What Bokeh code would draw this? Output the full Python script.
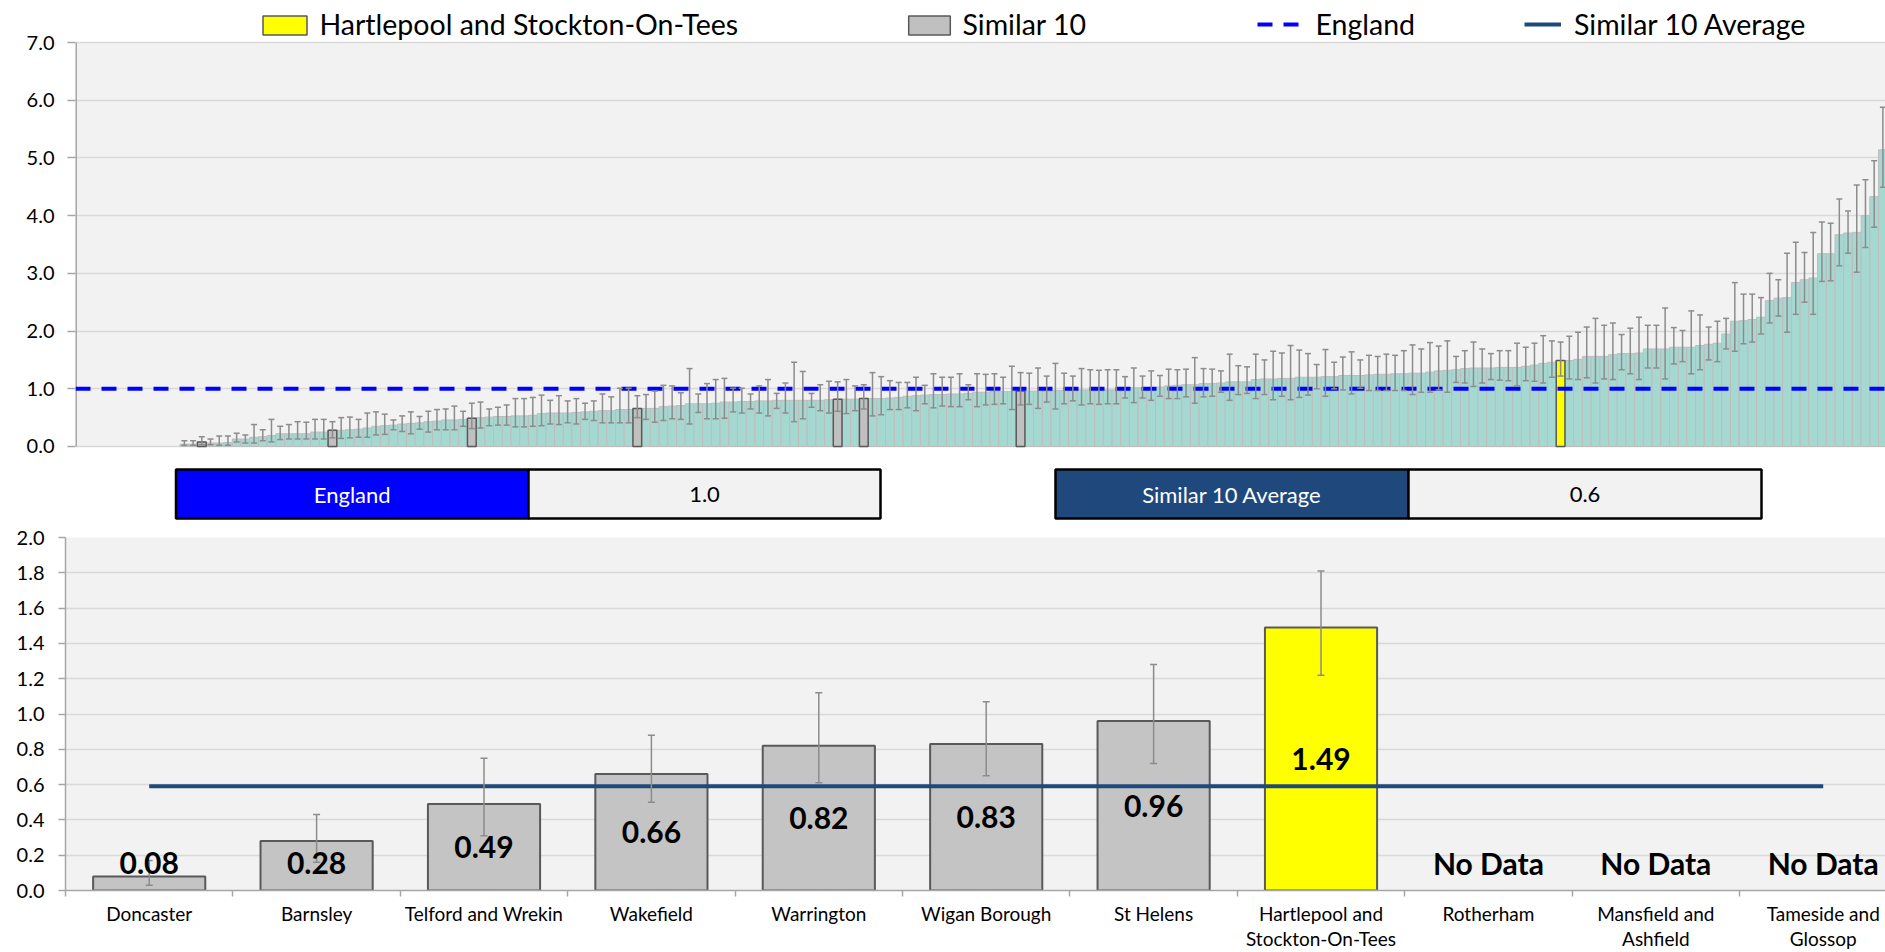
import numpy as np
from bokeh.plotting import figure
from bokeh.models import (ColumnDataSource, Range1d, FixedTicker, NumeralTickFormatter,
                          Legend, LegendItem, Label, BoxAnnotation)
from bokeh.layouts import column
from bokeh.embed import file_html
from bokeh.resources import INLINE
from bokeh.core.properties import value

FONT = "Lato"
W = 1885
NAVY = "#1F497D"
TEAL = "#A6D8D2"
GREY_BAR = "#C4C4C4"
ERR = "#8C8C8C"
AXIS_GREY = "#A6A6A6"

# ---------------------------------------------------------------- data
ENGLAND = 1.0
SIMILAR_AVG = 0.59
FOCAL = "Hartlepool and Stockton-On-Tees"

areas = ["Doncaster", "Barnsley", "Telford and Wrekin", "Wakefield", "Warrington",
         "Wigan Borough", "St Helens", "Hartlepool and Stockton-On-Tees", "Rotherham",
         "Mansfield and Ashfield", "Tameside and Glossop"]
area_labels = ["Doncaster", "Barnsley", "Telford and Wrekin", "Wakefield", "Warrington",
               "Wigan Borough", "St Helens", "Hartlepool and\nStockton-On-Tees", "Rotherham",
               "Mansfield and\nAshfield", "Tameside and\nGlossop"]
area_values = [0.08, 0.28, 0.49, 0.66, 0.82, 0.83, 0.96, 1.49, None, None, None]
area_lower = [0.03, 0.16, 0.31, 0.50, 0.61, 0.65, 0.72, 1.22, None, None, None]
area_upper = [0.17, 0.43, 0.75, 0.88, 1.12, 1.07, 1.28, 1.81, None, None, None]

# all areas, ranked (the first N_BLANK ranks have no value)
N_BLANK = 12
all_values = [
    0.04, 0.04, 0.08, 0.06, 0.06, 0.07, 0.13, 0.13, 0.16, 0.17,
    0.19, 0.22, 0.22, 0.22, 0.22, 0.25, 0.25, 0.28, 0.28, 0.29,
    0.30, 0.32, 0.35, 0.36, 0.37, 0.39, 0.40, 0.41, 0.43, 0.44,
    0.46, 0.46, 0.47, 0.49, 0.50, 0.51, 0.52, 0.52, 0.53, 0.53,
    0.54, 0.57, 0.58, 0.58, 0.58, 0.59, 0.60, 0.61, 0.62, 0.62,
    0.64, 0.64, 0.66, 0.66, 0.66, 0.69, 0.70, 0.71, 0.74, 0.74,
    0.74, 0.75, 0.77, 0.77, 0.78, 0.78, 0.79, 0.79, 0.80, 0.80,
    0.80, 0.80, 0.80, 0.80, 0.81, 0.82, 0.82, 0.82, 0.83, 0.83,
    0.83, 0.84, 0.85, 0.87, 0.88, 0.89, 0.90, 0.90, 0.91, 0.91,
    0.92, 0.94, 0.94, 0.95, 0.95, 0.95, 0.96, 0.96, 0.96, 0.96,
    0.97, 0.97, 0.97, 0.98, 0.98, 0.98, 0.98, 0.98, 1.01, 1.02,
    1.02, 1.02, 1.03, 1.05, 1.06, 1.07, 1.07, 1.09, 1.09, 1.10,
    1.12, 1.12, 1.12, 1.16, 1.17, 1.17, 1.18, 1.18, 1.20, 1.20,
    1.20, 1.21, 1.21, 1.23, 1.23, 1.23, 1.24, 1.25, 1.25, 1.26,
    1.26, 1.27, 1.27, 1.29, 1.31, 1.32, 1.33, 1.35, 1.36, 1.36,
    1.36, 1.37, 1.37, 1.37, 1.39, 1.41, 1.44, 1.46, 1.49, 1.49,
    1.51, 1.56, 1.56, 1.56, 1.59, 1.61, 1.61, 1.62, 1.69, 1.69,
    1.69, 1.72, 1.72, 1.72, 1.75, 1.77, 1.79, 1.95, 2.17, 2.18,
    2.20, 2.24, 2.53, 2.57, 2.58, 2.84, 2.89, 2.92, 3.34, 3.34,
    3.67, 3.70, 3.71, 4.00, 4.33, 5.14]
all_lower = [
    0.02, 0.02, 0.03, 0.03, 0.02, 0.02, 0.08, 0.06, 0.06, 0.10,
    0.08, 0.12, 0.13, 0.13, 0.13, 0.13, 0.13, 0.15, 0.14, 0.15,
    0.16, 0.16, 0.20, 0.21, 0.29, 0.26, 0.22, 0.30, 0.25, 0.29,
    0.29, 0.29, 0.35, 0.31, 0.32, 0.36, 0.37, 0.37, 0.34, 0.34,
    0.35, 0.36, 0.39, 0.38, 0.41, 0.39, 0.47, 0.45, 0.41, 0.41,
    0.41, 0.41, 0.50, 0.47, 0.42, 0.45, 0.48, 0.47, 0.39, 0.59,
    0.48, 0.48, 0.49, 0.60, 0.58, 0.65, 0.58, 0.53, 0.66, 0.58,
    0.43, 0.48, 0.68, 0.62, 0.58, 0.61, 0.57, 0.62, 0.65, 0.53,
    0.55, 0.64, 0.64, 0.67, 0.62, 0.74, 0.67, 0.70, 0.69, 0.69,
    0.81, 0.69, 0.72, 0.73, 0.74, 0.64, 0.72, 0.73, 0.66, 0.77,
    0.65, 0.74, 0.79, 0.72, 0.74, 0.73, 0.74, 0.74, 0.84, 0.76,
    0.84, 0.80, 0.87, 0.83, 0.83, 0.86, 0.75, 0.86, 0.87, 0.94,
    0.80, 0.90, 0.92, 0.83, 0.90, 0.81, 0.87, 0.81, 0.85, 0.89,
    1.00, 0.87, 1.00, 0.98, 0.91, 1.01, 0.97, 0.97, 0.97, 0.97,
    0.97, 0.90, 0.94, 0.94, 0.98, 0.94, 1.11, 1.10, 1.04, 1.10,
    1.16, 1.15, 1.14, 1.05, 1.14, 1.13, 1.10, 1.20, 1.22, 1.17,
    1.16, 1.19, 1.10, 1.17, 1.16, 1.33, 1.26, 1.16, 1.36, 1.36,
    1.17, 1.43, 1.47, 1.26, 1.33, 1.50, 1.47, 1.69, 1.65, 1.78,
    1.81, 1.95, 2.14, 2.26, 1.98, 2.29, 2.50, 2.29, 2.86, 2.87,
    3.13, 3.35, 3.02, 3.45, 3.80, 4.49]
all_upper = [
    0.10, 0.10, 0.17, 0.13, 0.18, 0.18, 0.23, 0.20, 0.38, 0.29,
    0.47, 0.35, 0.38, 0.43, 0.42, 0.47, 0.47, 0.43, 0.50, 0.51,
    0.47, 0.58, 0.60, 0.56, 0.46, 0.53, 0.60, 0.52, 0.61, 0.64,
    0.65, 0.70, 0.61, 0.75, 0.77, 0.65, 0.68, 0.72, 0.83, 0.83,
    0.85, 0.89, 0.80, 0.88, 0.79, 0.83, 0.75, 0.79, 0.91, 0.86,
    1.01, 1.01, 0.88, 0.90, 0.96, 1.06, 1.05, 0.93, 1.35, 0.91,
    1.09, 1.16, 1.18, 1.01, 1.01, 0.91, 1.05, 1.16, 0.92, 1.10,
    1.46, 1.30, 0.92, 1.07, 1.13, 1.12, 1.16, 1.05, 1.07, 1.28,
    1.21, 1.14, 1.11, 1.11, 1.20, 1.06, 1.26, 1.20, 1.20, 1.26,
    1.07, 1.26, 1.25, 1.26, 1.20, 1.39, 1.28, 1.27, 1.36, 1.22,
    1.44, 1.27, 1.22, 1.35, 1.33, 1.32, 1.33, 1.33, 1.21, 1.36,
    1.22, 1.31, 1.23, 1.34, 1.33, 1.34, 1.54, 1.35, 1.34, 1.31,
    1.60, 1.40, 1.38, 1.60, 1.50, 1.65, 1.62, 1.75, 1.67, 1.61,
    1.42, 1.68, 1.46, 1.55, 1.64, 1.50, 1.58, 1.56, 1.60, 1.58,
    1.66, 1.76, 1.69, 1.80, 1.74, 1.83, 1.56, 1.66, 1.81, 1.69,
    1.61, 1.66, 1.66, 1.79, 1.72, 1.79, 1.92, 1.83, 1.81, 1.91,
    1.98, 2.07, 2.22, 2.10, 2.14, 1.94, 2.05, 2.24, 2.10, 2.10,
    2.40, 2.06, 2.01, 2.35, 2.28, 2.07, 2.17, 2.22, 2.84, 2.64,
    2.64, 2.58, 3.00, 2.89, 3.35, 3.54, 3.36, 3.71, 3.89, 3.87,
    4.29, 4.08, 4.53, 4.62, 4.95, 5.88]
similar_rank = [2, 17, 33, 52, 75, 78, 96]
focal_rank = 158

# ---------------------------------------------------------------- top chart (+ summary boxes)
TOP_H = 528
TOP_X_END = 207.8
TOP_Y_END = 7.728          # headroom above 7.0 holds the legend row
TOP_Y_START = -1.421       # room below 0.0 holds the England / Similar 10 summary boxes
Y_TICKS_TOP = list(range(8))
xs = N_BLANK + np.arange(len(all_values)) + 0.5
src_all = ColumnDataSource(dict(x=xs, v=all_values, lo=all_lower, up=all_upper))
src_sim = ColumnDataSource(dict(x=[xs[i] for i in similar_rank],
                                v=[all_values[i] for i in similar_rank]))
src_foc = ColumnDataSource(dict(x=[xs[focal_rank]], v=[all_values[focal_rank]]))

top = figure(width=W, height=TOP_H, x_range=Range1d(0, TOP_X_END),
             y_range=Range1d(TOP_Y_START, TOP_Y_END), frame_align=False,
             output_backend="svg", toolbar_location=None, tools="",
             min_border_left=75, min_border_right=0, min_border_top=0, min_border_bottom=0,
             background_fill_color="white", border_fill_color="white", outline_line_color=None)
# pixel-space ranges for the summary boxes placed under the ranked chart
top.extra_x_ranges = {"px": Range1d(75, W)}
top.extra_y_ranges = {"py": Range1d(TOP_H, 0)}
top.add_layout(BoxAnnotation(bottom=Y_TICKS_TOP[0], top=Y_TICKS_TOP[-1], fill_color="#F2F2F2",
                             fill_alpha=1, line_color=None, level="image"))
top.xaxis.visible = False
top.xgrid.visible = False
top.yaxis.ticker = FixedTicker(ticks=Y_TICKS_TOP)
top.yaxis.formatter = NumeralTickFormatter(format="0.0")
top.yaxis.axis_line_color = None
top.yaxis.major_tick_line_color = AXIS_GREY
top.yaxis.major_tick_line_width = 1.5
top.yaxis.major_tick_out = 8
top.yaxis.major_tick_in = 0
top.yaxis.minor_tick_line_color = None
top.yaxis.major_label_standoff = 13
top.yaxis.major_label_text_font = FONT
top.yaxis.major_label_text_font_size = "20px"
top.yaxis.major_label_text_color = "black"
top.ygrid.grid_line_color = "#D9D9D9"
top.ygrid.grid_line_width = 1.5
# vertical axis line only over the 0-7 plot area
top.segment(x0=[top.x_range.start], y0=[Y_TICKS_TOP[0]], x1=[top.x_range.start],
            y1=[Y_TICKS_TOP[-1]], line_color=AXIS_GREY, line_width=3)

top.vbar(x="x", top="v", width=1, source=src_all, fill_color=TEAL,
         line_color="#BDBDBD", line_width=1)
r_sim = top.vbar(x="x", top="v", width=1, source=src_sim, fill_color="#C0C0C0",
                 line_color="#595959", line_width=1.5)
r_foc = top.vbar(x="x", top="v", width=1, source=src_foc, fill_color="#FFFF00",
                 line_color="#595959", line_width=1.5)
r_eng = top.line(x=[0, TOP_X_END], y=[ENGLAND, ENGLAND], line_color="#0000FF",
                 line_width=4, line_dash="15 11")
# the similar-10 average is only drawn in the lower chart; this hidden copy feeds the legend key
r_avg = top.line(x=[0, TOP_X_END], y=[SIMILAR_AVG, SIMILAR_AVG], line_color=NAVY,
                 line_width=4, visible=False)
top.segment(x0="x", y0="lo", x1="x", y1="up", source=src_all, line_color=ERR, line_width=1.5)
top.scatter(x="x", y="lo", source=src_all, marker="dash", size=6, line_color=ERR, line_width=1.5)
top.scatter(x="x", y="up", source=src_all, marker="dash", size=6, line_color=ERR, line_width=1.5)

# legend row: (renderer, text, key left, key width, key height, key top, text left)
# offsets are screen px from the frame's left edge / top edge
legend_items = [
    (r_foc, FOCAL, 181.5, 55, 24, 12.6, 244),
    (r_sim, "Similar 10", 827.8, 52, 24, 12.6, 887),
    (r_eng, "England", 1182, 43, 18, 15, 1240),
    (r_avg, "Similar 10 Average", 1449, 37, 18, 15, 1498.5),
]
for rend, text, gx, gw, gh, gtop, tx in legend_items:
    leg = Legend(items=[LegendItem(label=" ", renderers=[rend])],
                 location=(gx, TOP_H - gtop - gh),
                 orientation="horizontal", padding=0, margin=0, spacing=0,
                 glyph_width=gw, glyph_height=gh, label_height=gh, label_width=0,
                 label_standoff=0, label_text_font_size="1px",
                 inactive_fill_alpha=0,
                 border_line_color=None, background_fill_alpha=0)
    top.add_layout(leg)
    top.add_layout(Label(x=tx, y=TOP_H - 23.5, x_units="screen", y_units="screen",
                         text=text, text_font=FONT, text_font_size="28.5px",
                         text_baseline="middle", text_align="left", text_color="black"))

# summary boxes
top.quad(left=[175.5, 1055], right=[528, 1408], top=469, bottom=518,
         fill_color=["#0000FF", NAVY], line_color="black", line_width=2.5,
         x_range_name="px", y_range_name="py")
top.quad(left=[528, 1408], right=[880, 1761], top=469, bottom=518,
         fill_color="#F2F2F2", line_color="black", line_width=2.5,
         x_range_name="px", y_range_name="py")
top.text(x=[351.7, 1231.5], y=[493.5, 493.5], text=["England", "Similar 10 Average"],
         text_color="white", text_font=value(FONT), text_font_size="22px",
         text_align="center", text_baseline="middle", x_range_name="px", y_range_name="py")
top.text(x=[704, 1584.5], y=[493.5, 493.5], text=[f"{ENGLAND:.1f}", f"{SIMILAR_AVG:.1f}"],
         text_color="black", text_font=value(FONT), text_font_size="22px",
         text_align="center", text_baseline="middle", x_range_name="px", y_range_name="py")

# ---------------------------------------------------------------- bottom chart
BOT_X_END = 10.872
LABEL_FLOOR = 0.155
cx = [i + 0.5 for i in range(len(areas))]
has = [v is not None for v in area_values]
src_b = ColumnDataSource(dict(
    x=[c for c, h in zip(cx, has) if h],
    v=[v for v in area_values if v is not None],
    lo=[v for v in area_lower if v is not None],
    up=[v for v in area_upper if v is not None],
    col=["#FFFF00" if a == FOCAL else GREY_BAR for a, h in zip(areas, has) if h]))
src_lab = ColumnDataSource(dict(
    x=cx,
    y=[max(v / 2, LABEL_FLOOR) if v is not None else LABEL_FLOOR for v in area_values],
    t=[f"{v:.2f}" if v is not None else "No Data" for v in area_values]))

bot = figure(width=W, height=424, x_range=Range1d(0, BOT_X_END), y_range=Range1d(0, 2),
             frame_align=False,
             output_backend="svg", toolbar_location=None, tools="",
             min_border_left=65, min_border_right=0, min_border_top=9, min_border_bottom=61,
             background_fill_color="#F2F2F2", border_fill_color="white", outline_line_color=None)
bot.xgrid.visible = False
bot.ygrid.grid_line_color = "#D9D9D9"
bot.ygrid.grid_line_width = 1.5
bot.yaxis.ticker = FixedTicker(ticks=[round(0.2 * i, 1) for i in range(11)])
bot.yaxis.formatter = NumeralTickFormatter(format="0.0")
for ax in (bot.xaxis[0], bot.yaxis[0]):
    ax.axis_line_color = AXIS_GREY
    ax.axis_line_width = 1.5
    ax.major_label_text_font = FONT
    ax.major_label_text_color = "black"
bot.yaxis.major_tick_line_color = AXIS_GREY
bot.yaxis.major_tick_line_width = 1.5
bot.yaxis.major_tick_out = 7
bot.yaxis.major_tick_in = 0
bot.yaxis.minor_tick_line_color = None
bot.yaxis.major_label_standoff = 14
bot.yaxis.major_label_text_font_size = "20px"
bot.xaxis.ticker = FixedTicker(ticks=cx, minor_ticks=list(range(len(areas) + 1)))
bot.xaxis.major_label_overrides = {c: lab for c, lab in zip(cx, area_labels)}
bot.xaxis.major_tick_line_color = None
bot.xaxis.major_tick_out = 0
bot.xaxis.major_tick_in = 0
bot.xaxis.minor_tick_line_color = AXIS_GREY
bot.xaxis.minor_tick_line_width = 1.5
bot.xaxis.minor_tick_out = 6
bot.xaxis.minor_tick_in = 0
bot.xaxis.major_label_standoff = 5
bot.xaxis.major_label_text_font_size = "19px"
bot.xaxis.major_label_text_line_height = 1.1

bot.vbar(x="x", top="v", width=0.67, source=src_b, fill_color="col",
         line_color="#595959", line_width=2)
bot.line(x=cx, y=[SIMILAR_AVG] * len(cx), line_color=NAVY, line_width=4)
bot.segment(x0="x", y0="lo", x1="x", y1="up", source=src_b, line_color=ERR, line_width=1.5)
bot.scatter(x="x", y="lo", source=src_b, marker="dash", size=7, line_color=ERR, line_width=1.5)
bot.scatter(x="x", y="up", source=src_b, marker="dash", size=7, line_color=ERR, line_width=1.5)
bot.text(x="x", y="y", text="t", source=src_lab, text_font=value(FONT),
         text_font_style="bold", text_font_size="30px", text_color="black",
         text_align="center", text_baseline="middle")

layout = column(top, bot, spacing=0)
open("out.html", "w").write(file_html(layout, INLINE))
